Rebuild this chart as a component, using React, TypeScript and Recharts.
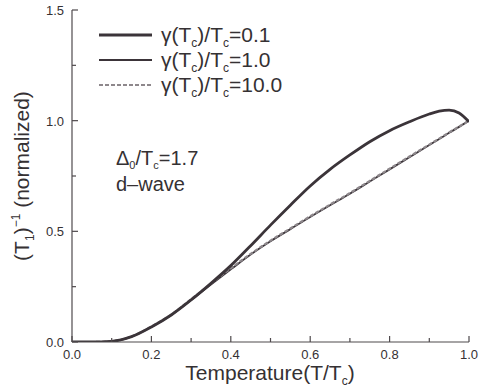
import React from "react";
import { LineChart, Line, XAxis, YAxis } from "recharts";

const temps = [0, 0.05, 0.1, 0.15, 0.2, 0.25, 0.3, 0.35, 0.4, 0.45, 0.5, 0.55, 0.6, 0.65, 0.7, 0.75, 0.8, 0.85, 0.9, 0.925, 0.95, 0.975, 1.0];
const gamma01 = [0, 0, 0.003, 0.024, 0.068, 0.122, 0.19, 0.265, 0.345, 0.435, 0.528, 0.618, 0.705, 0.78, 0.845, 0.905, 0.955, 0.995, 1.03, 1.043, 1.048, 1.035, 0.995];
const gamma10 = [0, 0, 0.003, 0.024, 0.068, 0.122, 0.19, 0.26, 0.328, 0.395, 0.455, 0.51, 0.565, 0.618, 0.67, 0.725, 0.78, 0.835, 0.89, 0.917, 0.945, 0.972, 1.0];
const gamma100 = [0, 0, 0.003, 0.025, 0.07, 0.124, 0.193, 0.264, 0.333, 0.398, 0.458, 0.513, 0.568, 0.621, 0.673, 0.728, 0.783, 0.838, 0.892, 0.919, 0.947, 0.973, 1.0];

const xTicks = [0, 0.1, 0.2, 0.3, 0.4, 0.5, 0.6, 0.7, 0.8, 0.9, 1.0];
const yTicks = [0, 0.25, 0.5, 0.75, 1.0, 1.25, 1.5];

const seriesLabels = ["0.1", "1.0", "10.0"];

const data = temps.map((t, i) => ({ t, a: gamma01[i], b: gamma10[i], c: gamma100[i] }));

const FONT = "'Liberation Sans', Arial, Helvetica, sans-serif";
const TXT = "#353133";
const AX = "#4f4a4d";
const DARK = "#3b3439";
const GRAY = "#8e888c";

const isMajorX = (v: number) => Math.abs(Math.round(v * 10) % 2) === 0;
const isMajorY = (v: number) => Math.abs((v * 2) - Math.round(v * 2)) < 1e-6;

const BottomTick = (props: any) => {
  const x = Number(props.x);
  const y = Number(props.y);
  const major = isMajorX(props.payload.value);
  return (
    <g>
      <rect x={x - 0.6} y={y - (major ? 6 : 4)} width={1.2} height={major ? 6 : 4} fill={AX} stroke="none" />
      {major && (
        <text x={x} y={y + 17} textAnchor="middle" fontSize={13} fill={TXT} stroke="none" fontFamily={FONT}>
          {props.payload.value.toFixed(1)}
        </text>
      )}
    </g>
  );
};
const TopTick = (props: any) => {
  const x = Number(props.x);
  const y = Number(props.y);
  const major = isMajorX(props.payload.value);
  return <rect x={x - 0.6} y={y} width={1.2} height={major ? 6 : 4} fill={AX} stroke="none" />;
};
const LeftTick = (props: any) => {
  const x = Number(props.x);
  const y = Number(props.y);
  const major = isMajorY(props.payload.value);
  return (
    <g>
      <rect x={x} y={y - 0.6} width={major ? 6 : 4} height={1.2} fill={AX} stroke="none" />
      {major && (
        <text x={x - 8} y={y + 5} textAnchor="end" fontSize={13} fill={TXT} stroke="none" fontFamily={FONT}>
          {props.payload.value.toFixed(1)}
        </text>
      )}
    </g>
  );
};
const RightTick = (props: any) => {
  const x = Number(props.x);
  const y = Number(props.y);
  const major = isMajorY(props.payload.value);
  return <rect x={x - (major ? 6 : 4)} y={y - 0.6} width={major ? 6 : 4} height={1.2} fill={AX} stroke="none" />;
};

const legendRows = [
  { y: 35, color: DARK, width: 3, dash: undefined as string | undefined },
  { y: 60, color: DARK, width: 2.2, dash: undefined as string | undefined },
  { y: 85, color: GRAY, width: 2.2, dash: "4 2" },
];

export default function App() {
  return (
    <div style={{ position: "absolute", left: 0, top: 0, width: 484, height: 390, background: "#fff" }}>
      <LineChart
        width={484}
        height={390}
        data={data}
        margin={{ top: 10, right: 15, bottom: 0, left: 0 }}
      >
        <XAxis
          dataKey="t"
          type="number"
          domain={[0, 1]}
          ticks={xTicks}
          tick={<BottomTick />}
          tickLine={false}
          tickSize={0}
          tickMargin={0}
          height={48}
          axisLine={{ stroke: AX, strokeWidth: 1.2 }}
          allowDataOverflow
        />
        <XAxis
          xAxisId="top"
          orientation="top"
          type="number"
          domain={[0, 1]}
          ticks={xTicks}
          tick={<TopTick />}
          tickLine={false}
          tickSize={0}
          tickMargin={0}
          height={0}
          axisLine={{ stroke: AX, strokeWidth: 1.2 }}
          allowDataOverflow
        />
        <YAxis
          type="number"
          domain={[0, 1.5]}
          ticks={yTicks}
          tick={<LeftTick />}
          tickLine={false}
          tickSize={0}
          tickMargin={0}
          width={72}
          axisLine={{ stroke: AX, strokeWidth: 1.2 }}
          allowDataOverflow
        />
        <YAxis
          yAxisId="right"
          orientation="right"
          type="number"
          domain={[0, 1.5]}
          ticks={yTicks}
          tick={<RightTick />}
          tickLine={false}
          tickSize={0}
          tickMargin={0}
          width={0}
          axisLine={{ stroke: AX, strokeWidth: 1.2 }}
          allowDataOverflow
        />
        <Line type="monotone" dataKey="b" stroke={DARK} strokeWidth={1.8} dot={false} isAnimationActive={false} />
        <Line type="monotone" dataKey="c" stroke={GRAY} strokeWidth={2.2} strokeDasharray="4 2" dot={false} isAnimationActive={false} />
        <Line type="monotone" dataKey="a" stroke={DARK} strokeWidth={2.8} dot={false} isAnimationActive={false} />
      </LineChart>
      <svg
        width={484}
        height={390}
        style={{ position: "absolute", left: 0, top: 0, pointerEvents: "none" }}
        fontFamily={FONT}
      >
        {legendRows.map((r, i) => (
          <g key={i}>
            <line x1={99} x2={152} y1={r.y} y2={r.y} stroke={r.color} strokeWidth={r.width} strokeDasharray={r.dash} />
            <text x={161} y={r.y + 7} fontSize={21} fill={TXT}>
              γ(T<tspan fontSize={12} dy={5}>c</tspan>
              <tspan dy={-5}>)/T</tspan>
              <tspan fontSize={12} dy={5}>c</tspan>
              <tspan dy={-5}>={seriesLabels[i]}</tspan>
            </text>
          </g>
        ))}
        <text x={116} y={165} fontSize={20} fill={TXT}>
          Δ<tspan fontSize={11} dy={4}>0</tspan>
          <tspan dy={-4}>/T</tspan>
          <tspan fontSize={11} dy={4}>c</tspan>
          <tspan dy={-4}>=1.7</tspan>
        </text>
        <text x={116} y={191} fontSize={20} fill={TXT}>d–wave</text>
        <text x={270} y={380} fontSize={21} fill={TXT} textAnchor="middle">
          Temperature(T/T<tspan fontSize={12} dy={5}>c</tspan>
          <tspan dy={-5}>)</tspan>
        </text>
        <text
          x={29}
          y={176}
          fontSize={21}
          fill={TXT}
          textAnchor="middle"
          transform="rotate(-90 29 176)"
        >
          (T<tspan fontSize={12} dy={5}>1</tspan>
          <tspan dy={-5}>)</tspan>
          <tspan fontSize={12} dy={-9}>−1</tspan>
          <tspan dy={9}> (normalized)</tspan>
        </text>
      </svg>
    </div>
  );
}
